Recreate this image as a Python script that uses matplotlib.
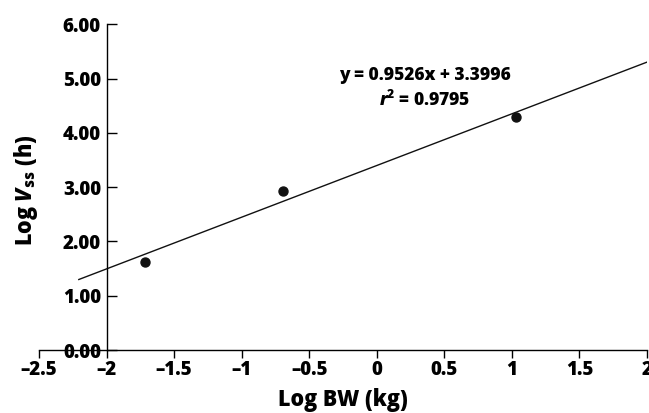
import numpy as np
import matplotlib.pyplot as plt

plt.rcParams['font.family'] = ['Open Sans', 'DejaVu Sans']
plt.rcParams['font.weight'] = 'heavy'
plt.rcParams['mathtext.fontset'] = 'custom'
plt.rcParams['mathtext.rm'] = 'Open Sans:heavy'
plt.rcParams['mathtext.bf'] = 'Open Sans:heavy'
plt.rcParams['mathtext.it'] = 'Open Sans:heavy:italic'
plt.rcParams['mathtext.bfit'] = 'Open Sans:heavy:italic'

# data
log_bw = [-1.715, -0.697, 1.027]
log_vss = [1.615, 2.93, 4.30]
slope = 0.9526
intercept = 3.3996
r2 = 0.9795
x_ticks = [-2.5, -2, -1.5, -1, -0.5, 0, 0.5, 1, 1.5, 2]
y_ticks = [0, 1, 2, 3, 4, 5, 6]

fig = plt.figure(figsize=(6.49, 4.13), dpi=100)
ax = fig.add_axes([0.060, 0.1525, 0.937, 0.7885])

# fitted line
xl = np.array([-2.205, 2.0])
ax.plot(xl, slope * xl + intercept, color='#111111', lw=1.0)
ax.scatter(log_bw, log_vss, s=42, color='#111111', zorder=3)

ax.set_xlim(-2.5, 2)
ax.set_ylim(0, 6)

ax.spines['top'].set_visible(False)
ax.spines['right'].set_visible(False)
ax.spines['left'].set_position(('data', -2))
ax.spines['bottom'].set_position(('data', 0))
ax.spines['left'].set_linewidth(1.0)
ax.spines['bottom'].set_linewidth(1.0)

ax.set_xticks(x_ticks)
ax.set_xticklabels(['\u2013' + ('%g' % abs(v)) if v < 0 else ('%g' % v) for v in x_ticks])
ax.set_yticks(y_ticks)
ax.set_yticklabels(['%.2f' % v for v in y_ticks])
ax.tick_params(axis='x', direction='out', length=6, width=1, labelsize=13.5, pad=1)
ax.tick_params(axis='y', direction='in', length=7, width=1, labelsize=13.5, pad=4)
for lab in ax.get_xticklabels() + ax.get_yticklabels():
    lab.set_fontweight('heavy')

ax.set_xlabel('Log BW (kg)', fontsize=15.5, fontweight='heavy', labelpad=6)
fig.text(0.040, 0.54, r'Log $\mathbfit{V}_{\mathbf{ss}}$ (h)', rotation=90, fontsize=15.5,
         fontweight='heavy', ha='center', va='center')

ax.text(0.356, 5.06, 'y = %.4fx + %.4f' % (slope, intercept), fontsize=12.5,
        fontweight='heavy', ha='center', va='center')
ax.text(0.356, 4.60, r'$\mathbfit{r}^{\mathbf{2}}$' + ' = %.4f' % r2, fontsize=12.5,
        fontweight='heavy', ha='center', va='center')

fig.savefig('out.png', dpi=100)
